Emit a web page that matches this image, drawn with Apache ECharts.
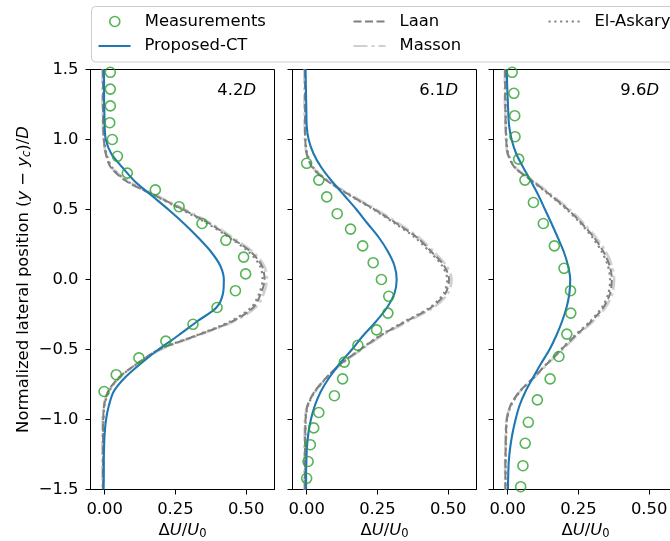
<!DOCTYPE html>
<html>
<head>
<meta charset="utf-8">
<script src="https://cdn.jsdelivr.net/npm/echarts@6/dist/echarts.min.js"></script>
<style>
  html, body { margin: 0; padding: 0; background: #fff; }
  #chart { width: 670px; height: 541px; }
</style>
</head>
<body>
<div id="chart"></div>
<script>
// lateral positions (y - yc)/D at which the model curves are read, top to bottom
const yModel = [1.5, 1.4, 1.3, 1.2, 1.1, 1.0, 0.9, 0.8, 0.7, 0.6, 0.5, 0.4, 0.3, 0.2, 0.1, 0.0,
  -0.1, -0.2, -0.3, -0.4, -0.5, -0.6, -0.7, -0.8, -0.9, -1.0, -1.1, -1.2, -1.3, -1.4, -1.5]

// 4.2D
const meas42Y = [1.48, 1.36, 1.24, 1.12, 1.00, 0.88, 0.76, 0.64, 0.52, 0.40, 0.28, 0.16, 0.04, -0.08, -0.20, -0.32, -0.44, -0.56, -0.68, -0.80]
const meas42U = [0.020, 0.020, 0.020, 0.018, 0.027, 0.045, 0.080, 0.179, 0.263, 0.344, 0.428, 0.491, 0.498, 0.462, 0.397, 0.312, 0.216, 0.121, 0.041, -0.002]
const ct42 = [-0.003, -0.002, -0.002, -0.001, 0.000, 0.004, 0.023, 0.063, 0.107, 0.166, 0.225, 0.280, 0.330, 0.375, 0.408, 0.421,
  0.418, 0.395, 0.326, 0.260, 0.190, 0.128, 0.072, 0.032, 0.015, 0.005, 0.000, -0.002, -0.003, -0.003, -0.004]
const laan42 = [-0.006, -0.006, -0.006, -0.006, -0.005, -0.003, 0.004, 0.022, 0.078, 0.178, 0.277, 0.370, 0.445, 0.515, 0.555, 0.565,
  0.552, 0.525, 0.450, 0.325, 0.193, 0.115, 0.050, 0.012, -0.002, -0.005, -0.006, -0.006, -0.006, -0.006, -0.006]
const masson42 = [-0.008, -0.008, -0.008, -0.007, -0.006, -0.004, 0.004, 0.024, 0.085, 0.183, 0.283, 0.377, 0.452, 0.522, 0.563, 0.573,
  0.562, 0.533, 0.455, 0.330, 0.198, 0.118, 0.052, 0.013, -0.003, -0.007, -0.008, -0.008, -0.008, -0.008, -0.008]
const askary42 = [-0.005, -0.005, -0.005, -0.005, -0.004, -0.002, 0.006, 0.026, 0.082, 0.176, 0.272, 0.363, 0.440, 0.508, 0.548, 0.558,
  0.546, 0.518, 0.443, 0.322, 0.192, 0.116, 0.052, 0.015, 0.000, -0.004, -0.005, -0.005, -0.005, -0.005, -0.005]

// 6.1D
const meas61Y = [0.83, 0.71, 0.59, 0.47, 0.36, 0.24, 0.12, 0.00, -0.12, -0.24, -0.36, -0.47, -0.59, -0.71, -0.83, -0.95, -1.06, -1.18, -1.30, -1.42]
const meas61U = [0.000, 0.043, 0.071, 0.108, 0.155, 0.198, 0.235, 0.264, 0.290, 0.287, 0.247, 0.181, 0.133, 0.127, 0.098, 0.043, 0.025, 0.013, 0.005, 0.000]
const ct61 = [-0.004, -0.003, -0.002, -0.001, 0.000, 0.007, 0.024, 0.052, 0.090, 0.133, 0.176, 0.215, 0.255, 0.287, 0.310, 0.318,
  0.310, 0.284, 0.245, 0.200, 0.160, 0.117, 0.080, 0.050, 0.029, 0.015, 0.006, 0.001, -0.001, -0.002, -0.002]
const laan61 = [-0.006, -0.006, -0.006, -0.006, -0.006, -0.005, 0.000, 0.020, 0.075, 0.155, 0.240, 0.318, 0.390, 0.440, 0.485, 0.503,
  0.490, 0.440, 0.350, 0.262, 0.190, 0.122, 0.070, 0.028, 0.003, -0.004, -0.005, -0.006, -0.006, -0.006, -0.006]
const masson61 = [-0.008, -0.008, -0.008, -0.008, -0.007, -0.006, 0.000, 0.022, 0.079, 0.160, 0.246, 0.325, 0.397, 0.448, 0.493, 0.512,
  0.499, 0.448, 0.357, 0.267, 0.194, 0.125, 0.072, 0.030, 0.003, -0.006, -0.007, -0.008, -0.008, -0.008, -0.008]
const askary61 = [-0.005, -0.005, -0.005, -0.005, -0.005, -0.004, 0.002, 0.023, 0.077, 0.153, 0.236, 0.312, 0.383, 0.434, 0.478, 0.497,
  0.484, 0.435, 0.346, 0.259, 0.189, 0.122, 0.071, 0.030, 0.005, -0.003, -0.004, -0.005, -0.005, -0.005, -0.005]

// 9.6D
const meas96Y = [1.48, 1.33, 1.17, 1.02, 0.86, 0.71, 0.55, 0.40, 0.24, 0.08, -0.08, -0.24, -0.39, -0.55, -0.71, -0.86, -1.02, -1.17, -1.33, -1.48]
const meas96U = [0.016, 0.022, 0.025, 0.026, 0.039, 0.061, 0.091, 0.126, 0.165, 0.199, 0.222, 0.223, 0.209, 0.181, 0.150, 0.105, 0.073, 0.062, 0.054, 0.046]
const ct96 = [-0.003, -0.002, 0.000, 0.002, 0.005, 0.014, 0.030, 0.055, 0.083, 0.109, 0.132, 0.155, 0.177, 0.198, 0.213, 0.221,
  0.218, 0.208, 0.192, 0.172, 0.148, 0.118, 0.090, 0.063, 0.042, 0.028, 0.017, 0.009, 0.004, 0.002, 0.001]
const laan96 = [-0.009, -0.009, -0.009, -0.008, -0.007, -0.005, 0.000, 0.025, 0.090, 0.153, 0.213, 0.262, 0.305, 0.338, 0.360, 0.368,
  0.362, 0.338, 0.295, 0.240, 0.190, 0.140, 0.092, 0.042, 0.010, -0.003, -0.006, -0.007, -0.008, -0.008, -0.008]
const masson96 = [-0.010, -0.010, -0.010, -0.009, -0.008, -0.006, 0.000, 0.027, 0.094, 0.158, 0.219, 0.269, 0.312, 0.346, 0.368, 0.376,
  0.370, 0.345, 0.301, 0.245, 0.194, 0.143, 0.094, 0.043, 0.010, -0.004, -0.007, -0.008, -0.009, -0.009, -0.009]
const askary96 = [-0.007, -0.007, -0.007, -0.007, -0.006, -0.004, 0.002, 0.026, 0.088, 0.150, 0.209, 0.258, 0.300, 0.332, 0.354, 0.362,
  0.356, 0.333, 0.291, 0.237, 0.188, 0.139, 0.092, 0.044, 0.012, -0.002, -0.005, -0.006, -0.007, -0.007, -0.007]

const panelLabels = ['4.2', '6.1', '9.6']
const xTicks = [0, 0.25, 0.5]

const panels = [
  { measY: meas42Y, measU: meas42U, ct: ct42, laan: laan42, masson: masson42, askary: askary42 },
  { measY: meas61Y, measU: meas61U, ct: ct61, laan: laan61, masson: masson61, askary: askary61 },
  { measY: meas96Y, measU: meas96U, ct: ct96, laan: laan96, masson: masson96, askary: askary96 }
]

const FONT = 'DejaVu Sans'
const FS = 16.4
const gridLeft = [90.5, 292.5, 493.5]
const labelRight = [256, 458, 659]
const rich = {
  i: { fontStyle: 'italic', fontSize: FS, fontFamily: FONT, color: '#000' },
  s: { fontSize: 11.5, fontFamily: FONT, color: '#000', padding: [8, 0, 0, 0] },
  si: { fontSize: 11.5, fontStyle: 'italic', fontFamily: FONT, color: '#000', padding: [8, 0, 0, 0] }
}

const chart = echarts.init(document.getElementById('chart'))

// fixed plot boxes; outerBoundsMode none so v6 does not shrink them to fit the labels
const grid = gridLeft.map(l => ({
  left: l, top: 69.5, width: 184, height: 420,
  outerBoundsMode: 'none', containLabel: false,
  show: true, borderColor: '#000', borderWidth: 1, backgroundColor: 'transparent'
}))

const xAxis = gridLeft.map((l, i) => ({
  gridIndex: i,
  type: 'value',
  min: -0.05,
  max: 0.6,
  splitLine: { show: false },
  axisLine: { show: true, onZero: false, lineStyle: { color: '#000', width: 1 } },
  axisTick: { show: true, length: 5, customValues: xTicks, lineStyle: { color: '#000' } },
  axisLabel: {
    customValues: xTicks,
    formatter: v => v.toFixed(2),
    color: '#000', fontSize: FS, fontFamily: FONT, margin: 12
  },
  name: 'Δ{i|U}/{i|U}{s|0}',
  nameLocation: 'middle',
  nameGap: 31,
  nameTextStyle: { color: '#000', fontSize: FS, fontFamily: FONT, rich: rich }
}))

const yAxis = gridLeft.map((l, i) => ({
  gridIndex: i,
  type: 'value',
  min: -1.5,
  max: 1.5,
  interval: 0.5,
  splitLine: { show: false },
  axisLine: { show: true, onZero: false, lineStyle: { color: '#000', width: 1 } },
  axisTick: { show: true, length: 5, lineStyle: { color: '#000' } },
  axisLabel: {
    show: i === 0,
    formatter: v => v.toFixed(1).replace('-', '\u2212'),
    color: '#000', fontSize: FS, fontFamily: FONT, margin: 12
  },
  name: i === 0 ? 'Normalized lateral position ({i|y} \u2212 {i|y}{si|c})/{i|D}' : '',
  nameLocation: 'middle',
  nameRotate: 90,
  nameGap: 57,
  nameTextStyle: { color: '#000', fontSize: FS, fontFamily: FONT, rich: rich }
}))

const series = []
panels.forEach((p, i) => {
  const curve = arr => yModel.map((y, k) => [arr[k], y])
  series.push({
    name: 'Masson', type: 'line', xAxisIndex: i, yAxisIndex: i,
    data: curve(p.masson), symbol: 'none', smooth: 0.3,
    itemStyle: { color: '#d0d0d0' },
    lineStyle: { color: '#d0d0d0', width: 2.6, type: [14, 4, 3, 4] }, z: 2
  })
  series.push({
    name: 'Laan', type: 'line', xAxisIndex: i, yAxisIndex: i,
    data: curve(p.laan), symbol: 'none', smooth: 0.3,
    itemStyle: { color: '#7f7f7f' },
    lineStyle: { color: '#7f7f7f', width: 2, type: [8, 3.5] }, z: 3
  })
  series.push({
    name: 'El-Askary', type: 'line', xAxisIndex: i, yAxisIndex: i,
    data: curve(p.askary), symbol: 'none', smooth: 0.3,
    itemStyle: { color: '#858585' },
    lineStyle: { color: '#858585', width: 2.2, type: [2.2, 3.6] }, z: 4
  })
  series.push({
    name: 'Proposed-CT', type: 'line', xAxisIndex: i, yAxisIndex: i,
    data: curve(p.ct), symbol: 'none', smooth: 0.3,
    itemStyle: { color: '#1f77b4' },
    lineStyle: { color: '#1f77b4', width: 2.1 }, z: 5
  })
  series.push({
    name: 'Measurements', type: 'scatter', xAxisIndex: i, yAxisIndex: i,
    data: p.measY.map((y, k) => [p.measU[k], y]),
    symbol: 'circle', symbolSize: 10,
    itemStyle: { color: 'rgba(0,0,0,0)', borderColor: '#2ca02c', borderWidth: 1.6 }, z: 6
  })
})

const legendBase = {
  orient: 'horizontal', padding: 0, itemWidth: 32, itemHeight: 10, itemGap: 0,
  selectedMode: false,
  textStyle: { fontSize: FS, fontFamily: FONT, color: '#000', lineHeight: 18, padding: [0, 0, 0, 9] }
}
// line entries: hide the marker that echarts puts in the middle of the line sample
const lineLegend = { ...legendBase, itemStyle: { opacity: 0 } }

const option = {
  animation: false,
  backgroundColor: '#fff',
  grid: grid,
  xAxis: xAxis,
  yAxis: yAxis,
  legend: [
    { ...legendBase, data: ['Measurements'], left: 109, top: 12.5, itemStyle: { borderWidth: 1.6 } },
    { ...lineLegend, data: ['Proposed-CT'], left: 97.5, top: 37 },
    { ...lineLegend, data: ['Laan'], left: 352.5, top: 12.5 },
    { ...lineLegend, data: ['Masson'], left: 352.5, top: 37 },
    { ...lineLegend, data: ['El-Askary'], left: 547.5, top: 12.5 }
  ],
  graphic: [
    {
      type: 'rect', z: 1,
      shape: { x: 91.5, y: 6.5, width: 640, height: 55.5, r: 4 },
      style: { fill: '#fff', stroke: '#cccccc', lineWidth: 1 }
    },
    ...panelLabels.map((t, i) => ({
      type: 'text', z: 10,
      x: labelRight[i], y: 91,
      style: {
        text: t + '{i|D}', rich: rich,
        fontSize: FS, fontFamily: FONT, fill: '#000',
        align: 'right', verticalAlign: 'middle'
      }
    }))
  ],
  series: series
}

chart.setOption(option)
</script>
</body>
</html>
